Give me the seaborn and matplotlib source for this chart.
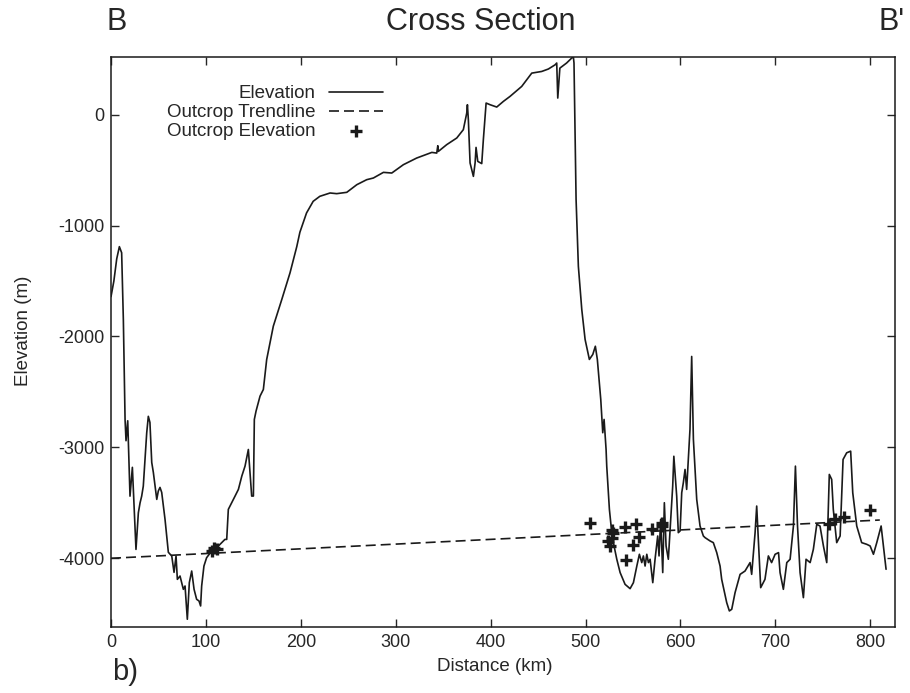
#!/usr/bin/env python3

import matplotlib
matplotlib.use('Agg')
import matplotlib.pyplot as plt
import seaborn as sns
import pandas as pd


# elevation profile (km, m)
DIST_KM = [0, 3, 6, 8.8, 11.2, 13, 14.8, 15.8, 17.6, 20, 22.5, 26.3, 28.8, 30.6, 32.3, 34,
           37.6, 39.3, 41, 42.9, 44.6, 48.2, 49.8, 51.6, 53.4, 56.9, 60.4, 64, 66.4, 68.5,
           69.9, 72.7, 76.2, 78, 80.4, 82.5, 85, 87.5, 90.2, 92.7, 94.4, 95.5, 97.9, 100.7,
           106, 111.3, 116.6, 120, 121.9, 123.6, 127.2, 130.7, 134.2, 137.8, 141.2, 144.7,
           146.5, 148.2, 150, 151, 152.8, 157, 160.5, 164, 171, 179.9, 188.6, 195.7, 199,
           206, 213, 220, 230.8, 237.8, 248.4, 259, 265.9, 269.4, 276.4, 287, 295.8, 308,
           322, 338, 343.2, 344.3, 344.9, 353.7, 364.3, 371.2, 374.8, 375.5, 376.5, 378.3,
           381.8, 383.6, 384.6, 386.4, 390.6, 392.3, 395.2, 399.4, 406.4, 413.4, 420.4,
           432.7, 443.3, 453.8, 460.8, 467.9, 469.6, 470.7, 472.9, 480, 487.1, 487.8, 490,
           492.4, 496, 499.5, 504, 507.6, 510.3, 512.4, 516, 518.1, 519.5, 521.6, 522.3,
           525.1, 527.6, 530, 532.9, 536.4, 541.6, 546.9, 550.4, 554, 556.7, 559.2, 560.9,
           562.7, 564.5, 566.2, 568, 570.8, 573.2, 576, 577.4, 579.1, 581.3, 583, 584.8,
           587.2, 591.8, 593, 596, 597.7, 599.6, 601.3, 603, 604.8, 606.5, 610, 611.8,
           613.6, 617.1, 620.6, 624.1, 625.9, 631.2, 634.6, 638.2, 641.7, 643.4, 648.7,
           651.5, 654, 657.5, 662.8, 668, 673.3, 675, 678.6, 680.3, 682, 684.5, 689, 692.6,
           696, 699.7, 703.3, 704.9, 708.4, 712, 715.5, 719, 721.1, 723.3, 726, 729.5,
           732.3, 736.6, 740, 743.6, 747, 750.6, 754.1, 755.8, 756.8, 759.3, 761, 764.6,
           768.2, 771.3, 775.1, 779.3, 781.5, 785.7, 790.9, 796.2, 799.8, 803.3, 806.8,
           811.4, 813.8, 816.6]
ELEV_M = [-1640, -1500, -1300, -1190, -1245, -1850, -2750, -2940, -2760, -3440, -3180, -3920,
          -3590, -3500, -3440, -3350, -2870, -2720, -2775, -3136, -3226, -3469, -3394, -3361,
          -3406, -3649, -3946, -3980, -4127, -3980, -4190, -4160, -4280, -4250, -4550, -4220,
          -4115, -4280, -4370, -4385, -4430, -4250, -4070, -3995, -3935, -3905, -3860, -3830,
          -3830, -3559, -3499, -3439, -3379, -3259, -3169, -3019, -3229, -3439, -3439, -2748,
          -2673, -2538, -2478, -2208, -1907, -1667, -1426, -1190, -1060, -886, -781, -736,
          -706, -712, -700, -631, -601, -586, -571, -520, -526, -451, -391, -340, -346, -280,
          -331, -270, -210, -135, 15, 90, -45, -435, -556, -435, -295, -421, -441, -225, 105,
          90, 69, 120, 165, 255, 375, 390, 412, 450, 466, 150, 420, 466, 525, 466, -766,
          -1367, -1757, -2027, -2207, -2162, -2088, -2207, -2568, -2868, -2748, -3018, -3169,
          -3559, -3769, -3889, -4009, -4129, -4235, -4274, -4220, -4070, -3964, -4039, -3979,
          -4070, -3964, -4039, -4009, -4220, -4009, -3799, -3979, -3649, -4129, -3499, -3889,
          -4009, -3349, -3080, -3439, -3769, -3754, -3409, -3319, -3199, -3379, -2838, -2180,
          -2928, -3469, -3709, -3799, -3814, -3844, -3859, -3949, -4070, -4190, -4400, -4475,
          -4460, -4310, -4145, -4115, -4039, -4145, -3769, -3529, -3829, -4265, -4190, -3979,
          -4039, -3964, -3949, -4129, -4280, -4039, -4009, -3709, -3169, -3709, -4129, -4355,
          -4009, -4039, -3919, -3694, -3709, -3889, -4039, -3529, -3244, -3289, -3559, -3859,
          -3799, -3109, -3049, -3034, -3409, -3709, -3859, -3874, -3889, -3964, -3859, -3709,
          -3889, -4099]

# outcrop trendline end points
TREND_KM = [0, 810]
TREND_M = [-4000, -3655]

# outcrop elevations
OUTCROP_KM = [106, 109, 112, 504.7, 524, 525.8, 527.6, 527.6, 529.2, 541.6, 542.7, 550.4,
              553.2, 556.7, 569.6, 580.2, 581, 756.6, 762.9, 772.4, 799.8]
OUTCROP_M = [-3930, -3905, -3920, -3685, -3844, -3889, -3745, -3814, -3769, -3715, -4016,
             -3880, -3688, -3805, -3735, -3679, -3705, -3694, -3649, -3625, -3568]

X_TICKS = [0, 100, 200, 300, 400, 500, 600, 700, 800]
Y_TICKS = [0, -1000, -2000, -3000, -4000]


def main():
    sns.set_style('ticks')
    plt.rcParams['font.family'] = ['Liberation Sans', 'DejaVu Sans']
    plt.rcParams['axes.unicode_minus'] = False
    plt.rcParams['xtick.direction'] = 'in'
    plt.rcParams['ytick.direction'] = 'in'

    fig = plt.figure(figsize=(9.1, 6.93), dpi=100)
    ax = fig.add_axes([0.122, 0.0952, 0.8615, 0.8225])

    prof = pd.DataFrame({'km': DIST_KM, 'm': ELEV_M})
    trend = pd.DataFrame({'km': TREND_KM, 'm': TREND_M})
    pts = pd.DataFrame({'km': OUTCROP_KM, 'm': OUTCROP_M})

    sns.lineplot(data=prof, x='km', y='m', sort=False, estimator=None, color='#1a1a1a',
                 lw=1.2, label='Elevation', ax=ax)
    sns.lineplot(data=trend, x='km', y='m', sort=False, estimator=None, color='#1a1a1a',
                 lw=1.2, dashes=False, label='Outcrop Trendline', ax=ax)
    ax.lines[-1].set_dashes((6, 3))
    sns.scatterplot(data=pts, x='km', y='m', marker='+', s=70, linewidth=2.4,
                    color='#1a1a1a', label='Outcrop Elevation', ax=ax, zorder=3)

    ax.set_xlim(0, 826)
    ax.set_ylim(-4620, 520)
    ax.set_xticks(X_TICKS)
    ax.set_yticks(Y_TICKS)
    ax.tick_params(top=True, right=True, length=6, width=1, labelsize=13, pad=5)
    for sp in ax.spines.values():
        sp.set_visible(True)
        sp.set_linewidth(1.1)
        sp.set_color('#1a1a1a')
    ax.set_xlabel('Distance (km)', fontsize=13.5)
    ax.set_ylabel('Elevation (m)', fontsize=13.5)
    ax.xaxis.set_label_coords(0.49, -0.055)
    ax.yaxis.set_label_coords(-0.101, 0.52)

    ax.legend(loc='upper right', bbox_to_anchor=(383 / 910, 1 - 85 / 693),
              bbox_transform=fig.transFigure, frameon=False, markerfirst=False,
              fontsize=13.5, handlelength=2.9, handletextpad=0.7, labelspacing=0.1,
              borderpad=0, borderaxespad=0)

    fig.text(117 / 910, 1 - 22 / 693, 'B', ha='center', va='center', fontsize=22)
    fig.text(481 / 910, 1 - 22 / 693, 'Cross Section', ha='center', va='center', fontsize=22)
    fig.text(892 / 910, 1 - 22 / 693, "B'", ha='center', va='center', fontsize=22)
    fig.text(125 / 910, 1 - 672 / 693, 'b)', ha='center', va='center', fontsize=21)

    fig.savefig('out.png', dpi=100)


if __name__ == '__main__':
    main()
